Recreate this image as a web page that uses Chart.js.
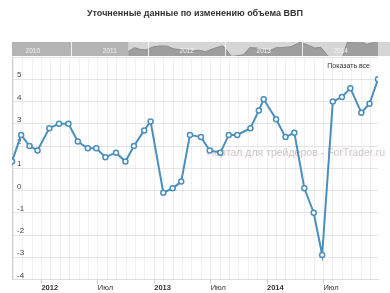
<!DOCTYPE html>
<html>
<head>
<meta charset="utf-8">
<script src="https://cdn.jsdelivr.net/npm/chart.js@4/dist/chart.umd.min.js"></script>
<style>
  body { margin: 0; background: #fff; }
  #wrap { position: relative; width: 390px; height: 293px; }
  #mainChart { position: absolute; left: 0; top: 0; }
  #navChart { position: absolute; left: 12px; top: 42px; }
</style>
</head>
<body>
<div id="wrap">
  <canvas id="mainChart" width="390" height="293"></canvas>
  <canvas id="navChart" width="378" height="14"></canvas>
</div>
<script>
// release dates and GDP change values (%)
const dates = [
  '2011-09-27', '2011-10-27', '2011-11-23', '2011-12-19',
  '2012-01-27', '2012-02-26', '2012-03-28', '2012-04-27', '2012-05-30', '2012-06-26',
  '2012-07-26', '2012-08-30', '2012-09-29', '2012-10-27', '2012-11-29', '2012-12-20',
  '2013-01-31', '2013-02-28', '2013-03-28', '2013-04-25', '2013-05-31', '2013-06-28',
  '2013-08-02', '2013-08-30', '2013-09-26', '2013-11-08', '2013-12-05', '2013-12-21',
  '2014-01-31', '2014-02-28', '2014-03-29', '2014-04-30', '2014-05-31', '2014-06-27',
  '2014-08-01', '2014-08-31', '2014-09-27', '2014-11-02', '2014-11-28', '2014-12-26'
];
const values = [
  1.3, 2.5, 2.0, 1.8,
  2.8, 3.0, 3.0, 2.2, 1.9, 1.9,
  1.5, 1.7, 1.3, 2.0, 2.7, 3.1,
  -0.1, 0.1, 0.4, 2.5, 2.4, 1.8,
  1.7, 2.5, 2.5, 2.8, 3.6, 4.1,
  3.2, 2.4, 2.6, 0.1, -1.0, -2.9,
  4.0, 4.2, 4.6, 3.5, 3.9, 5.0
];
const navYears = [2010, 2011, 2012, 2013, 2014];
const julyLabel = 'Июл';
const yMin = -4;
const yMax = 6;

const titleText = 'Уточненные данные по изменению объема ВВП';
const showAllText = 'Показать все';
const watermarkText = 'Портал для трейдеров - ForTrader.ru';

const fontFamily = '"Liberation Sans", Arial, sans-serif';

// months since Jan 2012 (fractional)
function toMonth(d) {
  const [y, m, day] = d.split('-').map(Number);
  const dim = new Date(y, m, 0).getDate();
  return (y - 2012) * 12 + (m - 1) + (day - 1) / dim;
}
function toYear(d) {
  return 2012 + toMonth(d) / 12;
}
function monthMod(v, n) {
  return ((v % n) + n) % n;
}

const points = dates.map((d, i) => ({ x: toMonth(d), y: values[i] }));
const navPoints = dates.map((d, i) => ({ x: toYear(d), y: values[i] }));
const xMin = points[0].x;
const xMax = points[points.length - 1].x;

// extra texts: watermark + "show all" button
const textPlugin = {
  id: 'texts',
  beforeDatasetsDraw(chart) {
    const ctx = chart.ctx;
    ctx.save();
    ctx.font = '10.5px ' + fontFamily;
    ctx.fillStyle = 'rgba(170,150,150,0.55)';
    ctx.textAlign = 'right';
    ctx.textBaseline = 'middle';
    ctx.fillText(watermarkText, 385, 153);
    ctx.restore();
  },
  afterDraw(chart) {
    const ctx = chart.ctx;
    ctx.save();
    ctx.font = '7px ' + fontFamily;
    ctx.fillStyle = '#333';
    ctx.textAlign = 'right';
    ctx.textBaseline = 'middle';
    ctx.fillText(showAllText, 370, 66);
    ctx.restore();
  }
};

new Chart(document.getElementById('mainChart'), {
  type: 'line',
  data: {
    datasets: [{
      data: points,
      borderColor: '#4a8fbd',
      borderWidth: 2,
      pointRadius: 2.5,
      pointBackgroundColor: '#fff',
      pointBorderColor: '#4a8fbd',
      pointBorderWidth: 1.5,
      tension: 0
    }]
  },
  options: {
    responsive: false,
    animation: false,
    layout: { padding: { left: 12, right: 12, top: 0, bottom: 0 } },
    plugins: {
      legend: { display: false },
      tooltip: { enabled: false },
      title: {
        display: true,
        text: titleText,
        color: '#333',
        font: { family: fontFamily, size: 9, weight: 'bold' },
        padding: { top: 8.5, bottom: 37.7 }
      }
    },
    scales: {
      x: {
        type: 'linear',
        min: xMin,
        max: xMax,
        afterBuildTicks: scale => {
          const t = [];
          for (let m = Math.ceil(xMin); m <= Math.floor(xMax); m++) t.push({ value: m });
          scale.ticks = t;
        },
        afterFit: scale => {
          scale.paddingLeft = 0;
          scale.paddingRight = 0;
        },
        grid: {
          color: '#f0f0f0',
          tickLength: 4,
          tickColor: ctx => (ctx.tick && monthMod(ctx.tick.value, 6) === 0 ? '#ccc' : 'rgba(0,0,0,0)')
        },
        border: { color: '#ddd' },
        ticks: {
          align: 'start',
          autoSkip: false,
          maxRotation: 0,
          padding: 1,
          color: '#333',
          font: ctx => ({
            family: fontFamily,
            size: 7.5,
            lineHeight: 1,
            weight: (ctx.tick && monthMod(ctx.tick.value, 12) === 0) ? 'bold' : 'normal'
          }),
          callback: v => {
            const mod = monthMod(v, 12);
            if (mod === 0) return String(2012 + v / 12);
            if (mod === 6) return julyLabel;
            return '';
          }
        }
      },
      y: {
        min: yMin,
        max: yMax,
        afterFit: scale => {
          scale.width = 0;
          scale.paddingTop = 0;
          scale.paddingBottom = 0;
        },
        grid: { color: '#e4e4e4', drawTicks: false },
        border: { color: '#ccc' },
        ticks: {
          stepSize: 1,
          mirror: true,
          padding: 5,
          labelOffset: -4,
          color: '#444',
          font: { family: fontFamily, size: 8 },
          callback: v => (v === yMax ? '' : v)
        }
      }
    }
  },
  plugins: [textPlugin]
});

// navigator band
const navPlugin = {
  id: 'navBand',
  beforeDraw(chart) {
    const ctx = chart.ctx;
    const xs = chart.scales.x;
    const startX = xs.getPixelForValue(navPoints[0].x);
    ctx.save();
    ctx.fillStyle = '#d6d6d6';
    ctx.fillRect(0, 0, chart.width, chart.height);
    ctx.fillStyle = '#b4b4b4';
    ctx.fillRect(0, 0, startX, chart.height);
    ctx.restore();
  },
  afterDraw(chart) {
    const ctx = chart.ctx;
    const xs = chart.scales.x;
    ctx.save();
    ctx.strokeStyle = 'rgba(255,255,255,0.8)';
    ctx.lineWidth = 1;
    ctx.font = '6.5px ' + fontFamily;
    ctx.fillStyle = '#f4f4f4';
    ctx.textAlign = 'center';
    ctx.textBaseline = 'middle';
    navYears.forEach(yr => {
      const px = Math.round(xs.getPixelForValue(yr)) + 0.5;
      ctx.beginPath();
      ctx.moveTo(px, 0);
      ctx.lineTo(px, chart.height);
      ctx.stroke();
      ctx.fillText(String(yr), xs.getPixelForValue(yr + 0.5), 9);
    });
    ctx.restore();
  }
};

new Chart(document.getElementById('navChart'), {
  type: 'line',
  data: {
    datasets: [{
      data: navPoints,
      borderColor: '#8c8c8c',
      borderWidth: 1,
      backgroundColor: '#9e9e9e',
      fill: 'start',
      pointRadius: 0,
      tension: 0
    }]
  },
  options: {
    responsive: false,
    animation: false,
    layout: { padding: 0 },
    plugins: { legend: { display: false }, tooltip: { enabled: false } },
    scales: {
      x: { type: 'linear', min: 2010.23, max: 2015.14, display: false },
      y: { min: 0, max: 4.2, display: false }
    }
  },
  plugins: [navPlugin]
});
</script>
</body>
</html>
